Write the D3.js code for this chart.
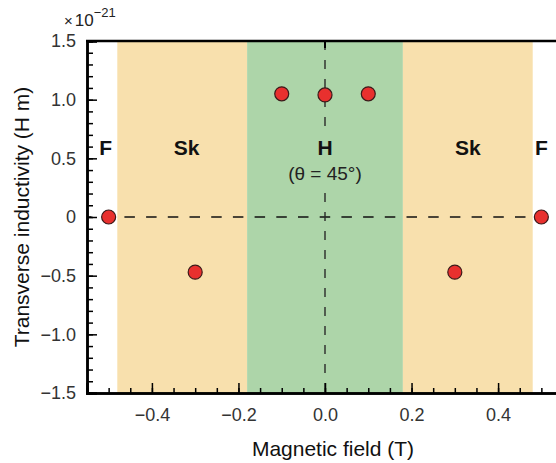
<!DOCTYPE html>
<html>
<head>
<meta charset="utf-8">
<script src="https://cdn.jsdelivr.net/npm/d3@7"></script>
<style>
  body { margin: 0; background: #fff; }
  text { font-family: Arial, "Liberation Sans", sans-serif; }
</style>
</head>
<body>
<script>
// data
var fieldT = [-0.5, -0.3, -0.1, 0, 0.1, 0.3, 0.5];
var inductivity = [0, -0.47, 1.05, 1.04, 1.05, -0.47, 0];

var regionNames = ["Sk", "H", "Sk"];
var regionStart = [-0.48, -0.18, 0.18];
var regionEnd = [-0.18, 0.18, 0.48];
var regionColors = ["#f8e0ad", "#add5a9", "#f8e0ad"];

var phaseLabels = ["F", "Sk", "H", "Sk", "F"];
var phaseX = [-0.507, -0.32, 0, 0.33, 0.5];

var xTicks = [-0.4, -0.2, 0, 0.2, 0.4];
var yTicks = [-1.5, -1.0, -0.5, 0, 0.5, 1.0, 1.5];

var svgWidth = 556;
var svgHeight = 463;

var svg = d3.select("body")
  .append("svg")
  .attr("width", svgWidth)
  .attr("height", svgHeight);

var xScale = d3.scaleLinear()
  .domain([-0.55, 0.55])
  .range([87, 563]);

var yScale = d3.scaleLinear()
  .domain([-1.5, 1.5])
  .range([393, 41]);

// background regions
svg.selectAll("rect.region")
  .data(regionNames)
  .enter()
  .append("rect")
  .attr("class", "region")
  .attr("x", (d, i) => xScale(regionStart[i]))
  .attr("width", (d, i) => xScale(regionEnd[i]) - xScale(regionStart[i]))
  .attr("y", yScale(1.5))
  .attr("height", yScale(-1.5) - yScale(1.5))
  .attr("fill", (d, i) => regionColors[i]);

// dashed zero lines
svg.append("line")
  .attr("x1", xScale(-0.55)).attr("x2", xScale(0.55))
  .attr("y1", yScale(0)).attr("y2", yScale(0))
  .attr("stroke", "#111")
  .attr("stroke-width", 1.4)
  .attr("stroke-dasharray", "10.5,11.2")
  .attr("stroke-dashoffset", 6);

svg.append("line")
  .attr("x1", xScale(0)).attr("x2", xScale(0))
  .attr("y1", yScale(1.5)).attr("y2", yScale(-1.5))
  .attr("stroke", "#2a2a2a")
  .attr("stroke-width", 1.4)
  .attr("stroke-dasharray", "9,10");

// mask the vertical line behind the H label
svg.append("rect")
  .attr("x", xScale(0) - 6)
  .attr("width", 12)
  .attr("y", 128)
  .attr("height", 58)
  .attr("fill", regionColors[1]);

// axes, ticks pointing inside
var xMinor = d3.range(-0.5, 0.551, 0.05).map(v => Math.round(v * 100) / 100);
var yMinor = d3.range(-1.5, 1.51, 0.1).map(v => Math.round(v * 10) / 10);

var minus = s => s.replace("-", "\u2212");

var bottomMinor = d3.axisBottom(xScale).tickValues(xMinor).tickSize(-5).tickFormat("");
var bottomMajor = d3.axisBottom(xScale).tickValues(xTicks).tickSize(-10).tickPadding(15)
  .tickFormat(d => minus(d3.format(".1f")(d)));

var leftMinor = d3.axisLeft(yScale).tickValues(yMinor).tickSize(-6).tickFormat("");
var leftMajor = d3.axisLeft(yScale).tickValues(yTicks).tickSize(-10).tickPadding(11)
  .tickFormat(d => d === 0 ? "0" : minus(d3.format(".1f")(d)));

svg.append("g").attr("transform", `translate(0, ${yScale(-1.5)})`).call(bottomMinor);
svg.append("g").attr("transform", `translate(0, ${yScale(-1.5)})`).call(bottomMajor);
svg.append("g").attr("transform", `translate(${xScale(-0.55)}, 0)`).call(leftMinor);
svg.append("g").attr("transform", `translate(${xScale(-0.55)}, 0)`).call(leftMajor);

svg.selectAll(".domain").attr("stroke", "#000").attr("stroke-width", 2.5);
svg.selectAll(".tick line").attr("stroke", "#000").attr("stroke-width", 1.5);
svg.selectAll(".tick text")
  .attr("font-size", 18)
  .attr("fill", "#333")
  .attr("font-family", "Arial, 'Liberation Sans', sans-serif");

// top frame line
svg.append("line")
  .attr("x1", xScale(-0.55) - 1).attr("x2", xScale(0.55))
  .attr("y1", yScale(1.5)).attr("y2", yScale(1.5))
  .attr("stroke", "#000")
  .attr("stroke-width", 2.5);
// small tick at top for x=0
svg.append("line")
  .attr("x1", xScale(0)).attr("x2", xScale(0))
  .attr("y1", yScale(1.5)).attr("y2", yScale(1.5) + 7)
  .attr("stroke", "#000")
  .attr("stroke-width", 2);

// data points
svg.selectAll("circle.pt")
  .data(fieldT)
  .enter()
  .append("circle")
  .attr("class", "pt")
  .attr("cx", d => xScale(d))
  .attr("cy", (d, i) => yScale(inductivity[i]))
  .attr("r", 7)
  .attr("fill", "#e8302e")
  .attr("stroke", "#3a1a1a")
  .attr("stroke-width", 1.2);

// phase labels
svg.selectAll("text.phase")
  .data(phaseLabels)
  .enter()
  .append("text")
  .attr("class", "phase")
  .attr("x", (d, i) => xScale(phaseX[i]))
  .attr("y", 155)
  .attr("text-anchor", "middle")
  .attr("font-size", 21)
  .attr("font-weight", "bold")
  .attr("fill", "#111")
  .text(d => d);

svg.append("text")
  .attr("x", xScale(0))
  .attr("y", 180)
  .attr("text-anchor", "middle")
  .attr("font-size", 19)
  .attr("fill", "#222")
  .text("(\u03b8 = 45\u00b0)");

// axis titles
svg.append("text")
  .attr("transform", `translate(29, ${yScale(0)}) rotate(-90)`)
  .attr("text-anchor", "middle")
  .attr("font-size", 21)
  .attr("fill", "#111")
  .text("Transverse inductivity (H m)");

svg.append("text")
  .attr("x", 333)
  .attr("y", 456)
  .attr("text-anchor", "middle")
  .attr("font-size", 21)
  .attr("fill", "#111")
  .text("Magnetic field (T)");

// exponent
var expo = svg.append("text")
  .attr("x", 64)
  .attr("y", 26)
  .attr("font-size", 17)
  .attr("fill", "#222");
expo.append("tspan").attr("font-size", 15).text("\u00d7");
expo.append("tspan").attr("dx", 2).text("10");
expo.append("tspan").attr("dy", -9).attr("font-size", 13).text("\u221221");
</script>
</body>
</html>
